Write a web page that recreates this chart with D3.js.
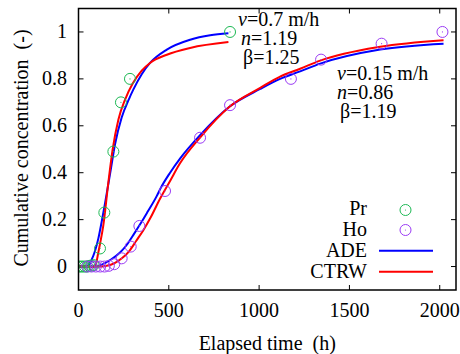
<!DOCTYPE html>
<html><head><meta charset="utf-8">
<script src="https://cdn.jsdelivr.net/npm/d3@7"></script>
<style>body{margin:0;background:#fff}svg{display:block}</style>
</head><body><svg id="c" width="460" height="354"></svg>
<script>
// Observed data (time h, cumulative concentration)
const prTime = [0,12,24,36,48,60,72,84,119,143,193,235,285,839];
const prConc = [0,0,0,0,0,0.003,0.004,0.006,0.077,0.23,0.49,0.70,0.80,1.0];
const hoTime = [48,72,96,120,144,168,198,239,289,337,479,673,839,1176,1343,1678,2015];
const hoConc = [0,0,0,0,0,0.003,0.01,0.035,0.085,0.173,0.322,0.549,0.688,0.80,0.882,0.95,1.0];
// Fitted curves, fast (v=0.7 m/h)
const adeFastT = [0,40,54,70,91,110,128,147,178,202,239,280,304,350,396,489,618,729,830];
const adeFastC = [0,0,0.005,0.025,0.065,0.12,0.19,0.27,0.41,0.52,0.635,0.715,0.755,0.82,0.868,0.925,0.967,0.986,0.994];
const ctrwFastT = [0,90,100,106,120,137,165,189,221,258,300,350,396,489,618,830];
const ctrwFastC = [0,0,0.02,0.045,0.10,0.173,0.357,0.499,0.627,0.712,0.78,0.835,0.868,0.903,0.932,0.957];
// Fitted curves, slow (v=0.15 m/h)
const adeSlowT = [0,100,120,180,230,270,304,341,380,433,452,507,562,673,839,1006,1116,1227,1338,1670,2021];
const adeSlowC = [0,0,0.005,0.03,0.06,0.095,0.135,0.18,0.23,0.30,0.33,0.40,0.46,0.56,0.683,0.757,0.80,0.832,0.865,0.925,0.950];
const ctrwSlowT = [0,130,156,200,240,280,320,359,400,452,507,562,673,839,1006,1116,1227,1338,1670,2021];
const ctrwSlowC = [0,0,0.003,0.015,0.035,0.065,0.11,0.155,0.21,0.29,0.365,0.44,0.55,0.683,0.762,0.81,0.843,0.878,0.937,0.965];
const xTicks = [0,500,1000,1500,2000];
const yTicks = [0,0.2,0.4,0.6,0.8,1];
const yTickLabels = ["0","0.2","0.4","0.6","0.8","1"];
const legendLabels = ["Pr","Ho","ADE","CTRW"];

const FONT = "'Liberation Serif','Times New Roman',Times,serif";
const svg = d3.select("#c").attr("font-family",FONT);
const L=78.5,R=456,T=8.5,B=290;
const x = d3.scaleLinear().domain([0,2090]).range([L,R]);
const y = d3.scaleLinear().domain([-0.1,1.1]).range([B,T]);
const fs = 20;
const GREEN="#1db954", PURPLE="#9b3cf5", BLUE="#0000ff", RED="#ff0000";

function txt(sel){ return sel.append("text").attr("font-family",FONT).attr("font-size",fs).attr("fill","#000"); }

// ticks (mirrored, inward)
const tl=5;
const g = svg.append("g").attr("stroke","#000").attr("stroke-width",1);
xTicks.forEach(v=>{
  g.append("line").attr("x1",x(v)).attr("x2",x(v)).attr("y1",B).attr("y2",B-tl);
  g.append("line").attr("x1",x(v)).attr("x2",x(v)).attr("y1",T).attr("y2",T+tl);
});
yTicks.forEach(v=>{
  g.append("line").attr("x1",L).attr("x2",L+tl).attr("y1",y(v)).attr("y2",y(v));
  g.append("line").attr("x1",R).attr("x2",R-tl).attr("y1",y(v)).attr("y2",y(v));
});
xTicks.forEach(v=>txt(svg).attr("x",x(v)).attr("y",317).attr("text-anchor","middle").text(v));
yTicks.forEach((v,i)=>txt(svg).attr("x",67).attr("y",y(v)+6.5).attr("text-anchor","end").text(yTickLabels[i]));
txt(svg).attr("x",(L+R)/2).attr("y",350).attr("text-anchor","middle").attr("xml:space","preserve").text("Elapsed time  (h)");
txt(svg).attr("transform",`translate(28,148) rotate(-90)`).attr("text-anchor","middle").attr("xml:space","preserve").text("Cumulative concentration  (-)");

// curves
const line = d3.line().x(d=>x(d[0])).y(d=>y(d[1])).curve(d3.curveMonotoneX);
const zip=(a,b)=>a.map((v,i)=>[v,b[i]]);
svg.append("clipPath").attr("id","cp").append("rect").attr("x",L).attr("y",T).attr("width",R-L).attr("height",B-T);
const cg = svg.append("g").attr("clip-path","url(#cp)");
[[adeFastT,adeFastC,BLUE],[ctrwFastT,ctrwFastC,RED],[adeSlowT,adeSlowC,BLUE],[ctrwSlowT,ctrwSlowC,RED]].forEach(([t,c,col])=>{
  cg.append("path").attr("d",line(zip(t,c))).attr("fill","none").attr("stroke",col).attr("stroke-width",2);
});
function marker(sel,cx,cy,col){
  sel.append("circle").attr("cx",cx).attr("cy",cy).attr("r",5.5).attr("fill","none").attr("stroke",col).attr("stroke-width",1);
  sel.append("circle").attr("cx",cx).attr("cy",cy).attr("r",0.6).attr("fill",col);
}
prTime.forEach((t,i)=>marker(cg,x(t),y(prConc[i]),GREEN));
hoTime.forEach((t,i)=>marker(cg,x(t),y(hoConc[i]),PURPLE));

// frame
svg.append("rect").attr("x",L).attr("y",T).attr("width",R-L).attr("height",B-T).attr("fill","none").attr("stroke","#000").attr("stroke-width",1.5);

// annotations
function ann(x0,yb,parts){
  const t=txt(svg).attr("x",x0).attr("y",yb);
  parts.forEach(p=>t.append("tspan").attr("font-style",p[1]?"italic":null).text(p[0]));
}
ann(238,26,[["v",1],["=0.7 m/h",0]]);
ann(241,44.5,[["n",1],["=1.19",0]]);
ann(243,64,[["β=1.25",0]]);
ann(337,80,[["v",1],["=0.15 m/h",0]]);
ann(337,98.5,[["n",1],["=0.86",0]]);
ann(340,118,[["β=1.19",0]]);

// legend
const ly=[215,236,257,278];
legendLabels.forEach((s,i)=>txt(svg).attr("x",367).attr("y",ly[i]).attr("text-anchor","end").text(s));
marker(svg,405.5,210,GREEN);
marker(svg,405.5,230,PURPLE);
svg.append("line").attr("x1",379).attr("x2",433).attr("y1",250.7).attr("y2",250.7).attr("stroke",BLUE).attr("stroke-width",2);
svg.append("line").attr("x1",379).attr("x2",433).attr("y1",271.7).attr("y2",271.7).attr("stroke",RED).attr("stroke-width",2);
</script></body></html>
